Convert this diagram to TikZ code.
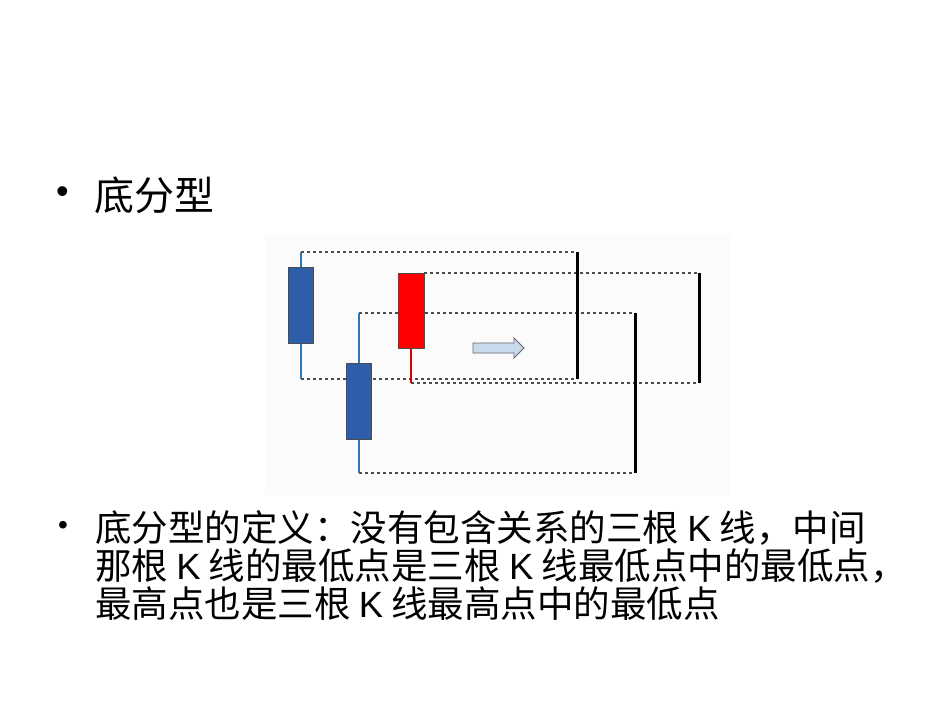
\documentclass[tikz,border=0pt]{standalone}
\usepackage{fontspec}
\setmainfont{Liberation Sans}
\newfontfamily\cjk{Noto Sans CJK SC}
\begin{document}
\begin{tikzpicture}[x=1pt,y=-1pt,
 guide/.style={draw=black!70,dashed,line width=1.1pt},
 bar/.style={line width=3pt,black},
 txt/.style={anchor=west,inner sep=0pt,font=\cjk\fontsize{36.5}{38}\selectfont}]
\useasboundingbox (0,0) rectangle (950,713);
\fill[black!1.5] (265,235) rectangle (730,495);
% dashed
\draw[guide] (301,252) -- (577,252);
\draw[guide] (301,379) -- (577,379);
\draw[guide] (424,273) -- (699,273);
\draw[guide] (411,383) -- (699,383);
\draw[guide] (359,313) -- (635,313);
\draw[guide] (359,473) -- (635,473);
% wicks
\draw[line width=2.5pt,color={rgb,255:red,46;green,117;blue,182}] (301,252) -- (301,379);
\draw[line width=2.5pt,color={rgb,255:red,46;green,117;blue,182}] (359,313) -- (359,473);
\draw[line width=2.5pt,red!85!black] (411,348) -- (411,383);
% bodies
\node[draw=black!70,line width=0.9pt,fill={rgb,255:red,46;green,94;blue,170},minimum width=25pt,minimum height=76pt,inner sep=0pt] (c1) at (300.5,305) {};
\node[draw=black!70,line width=0.9pt,fill={rgb,255:red,46;green,94;blue,170},minimum width=25pt,minimum height=76pt,inner sep=0pt] (c2) at (358.5,401) {};
\node[draw=black!70,line width=0.9pt,fill=red,minimum width=26pt,minimum height=75pt,inner sep=0pt] (c3) at (411,310.5) {};
% bars
\draw[bar] (577,252) -- (577,379);
\draw[bar] (699,273) -- (699,383);
\draw[bar] (635,313) -- (635,473);
% arrow
\draw[black!60,fill={rgb,255:red,200;green,218;blue,236},line width=0.9pt]
 (473,343) -- (514,343) -- (514,338) -- (524,348) -- (514,358) -- (514,353) -- (473,353) -- cycle;
% text
\node[anchor=west,inner sep=0pt,font=\fontsize{36}{40}\selectfont] (b1) at (56,195) {•};
\node[anchor=west,inner sep=0pt,font=\cjk\fontsize{40}{40}\selectfont] (t1) at (94,195) {底分型};
\node[anchor=west,inner sep=0pt,font=\fontsize{28}{30}\selectfont] (b2) at (58,528) {•};
\node[txt] (l1) at (95,528) {底分型的定义：没有包含关系的三根 {\fontspec{Liberation Sans}K} 线，中间};
\node[txt] (l2) at (95,566) {那根 {\fontspec{Liberation Sans}K} 线的最低点是三根 {\fontspec{Liberation Sans}K} 线最低点中的最低点，};
\node[txt] (l3) at (95,604) {最高点也是三根 {\fontspec{Liberation Sans}K} 线最高点中的最低点};
\end{tikzpicture}
\end{document}
